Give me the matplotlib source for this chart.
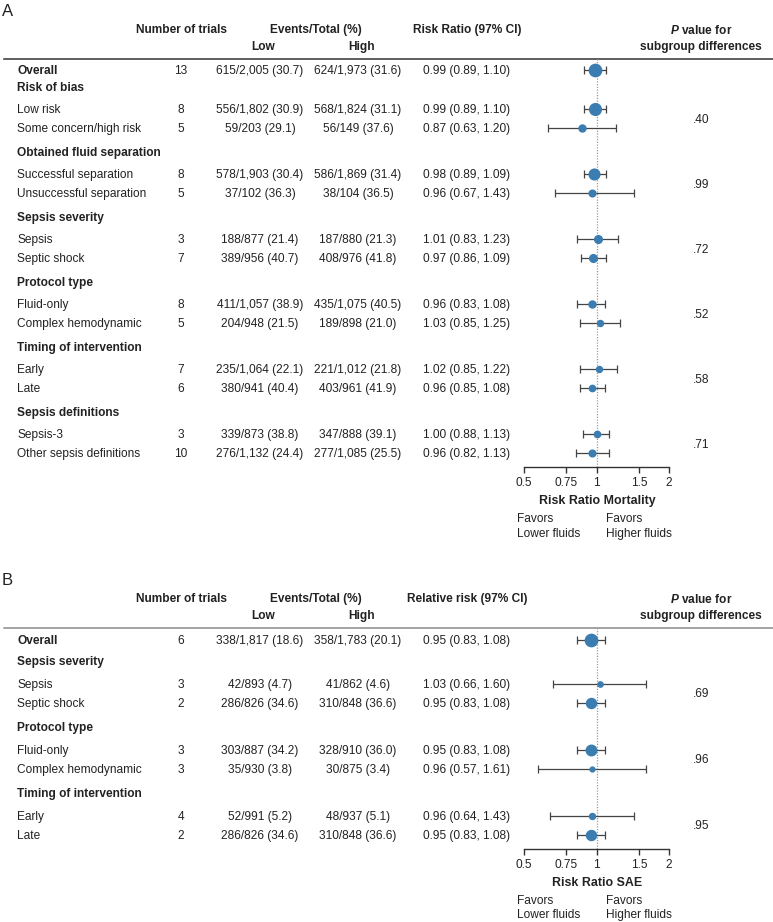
import numpy as np
import matplotlib
matplotlib.use("Agg")
import matplotlib.pyplot as plt

plt.rcParams["font.family"] = ["Liberation Sans", "DejaVu Sans"]
plt.rcParams["mathtext.fontset"] = "custom"
plt.rcParams["mathtext.it"] = "Liberation Sans:italic:bold"
plt.rcParams["mathtext.rm"] = "Liberation Sans:bold"

W, H = 773, 922
FS = 8.6
TXT = "#222222"
DOT = "#3b7db0"
BAR = "#444444"
DY = 1.2  # text sits a bit low against the row centre in the original

# ---- Panel A: mortality ----
A_LABELS = ["Overall", "Risk of bias", "Low risk", "Some concern/high risk",
            "Obtained fluid separation", "Successful separation", "Unsuccessful separation",
            "Sepsis severity", "Sepsis", "Septic shock",
            "Protocol type", "Fluid-only", "Complex hemodynamic",
            "Timing of intervention", "Early", "Late",
            "Sepsis definitions", "Sepsis-3", "Other sepsis definitions"]
A_TRIALS = [13, None, 8, 5, None, 8, 5, None, 3, 7, None, 8, 5, None, 7, 6, None, 3, 10]
A_LOW = ["615/2,005 (30.7)", None, "556/1,802 (30.9)", "59/203 (29.1)",
         None, "578/1,903 (30.4)", "37/102 (36.3)",
         None, "188/877 (21.4)", "389/956 (40.7)",
         None, "411/1,057 (38.9)", "204/948 (21.5)",
         None, "235/1,064 (22.1)", "380/941 (40.4)",
         None, "339/873 (38.8)", "276/1,132 (24.4)"]
A_HIGH = ["624/1,973 (31.6)", None, "568/1,824 (31.1)", "56/149 (37.6)",
          None, "586/1,869 (31.4)", "38/104 (36.5)",
          None, "187/880 (21.3)", "408/976 (41.8)",
          None, "435/1,075 (40.5)", "189/898 (21.0)",
          None, "221/1,012 (21.8)", "403/961 (41.9)",
          None, "347/888 (39.1)", "277/1,085 (25.5)"]
A_RR = [0.99, None, 0.99, 0.87, None, 0.98, 0.96, None, 1.01, 0.97, None, 0.96, 1.03, None, 1.02, 0.96, None, 1.00, 0.96]
A_LO = [0.89, None, 0.89, 0.63, None, 0.89, 0.67, None, 0.83, 0.86, None, 0.83, 0.85, None, 0.85, 0.85, None, 0.88, 0.82]
A_HI = [1.10, None, 1.10, 1.20, None, 1.09, 1.43, None, 1.23, 1.09, None, 1.08, 1.25, None, 1.22, 1.08, None, 1.13, 1.13]
# relative study weight (marker diameter, px)
A_WEIGHT = [12.3, None, 11.7, 7, None, 10.7, 6.7, None, 7.7, 7.7, None, 7, 6, None, 6, 6.3, None, 6.3, 6.7]
A_PVAL = [".40", ".99", ".72", ".52", ".58", ".71"]

# ---- Panel B: serious adverse events ----
B_LABELS = ["Overall", "Sepsis severity", "Sepsis", "Septic shock",
            "Protocol type", "Fluid-only", "Complex hemodynamic",
            "Timing of intervention", "Early", "Late"]
B_TRIALS = [6, None, 3, 2, None, 3, 3, None, 4, 2]
B_LOW = ["338/1,817 (18.6)", None, "42/893 (4.7)", "286/826 (34.6)",
         None, "303/887 (34.2)", "35/930 (3.8)",
         None, "52/991 (5.2)", "286/826 (34.6)"]
B_HIGH = ["358/1,783 (20.1)", None, "41/862 (4.6)", "310/848 (36.6)",
          None, "328/910 (36.0)", "30/875 (3.4)",
          None, "48/937 (5.1)", "310/848 (36.6)"]
B_RR = [0.95, None, 1.03, 0.95, None, 0.95, 0.96, None, 0.96, 0.95]
B_LO = [0.83, None, 0.66, 0.83, None, 0.83, 0.57, None, 0.64, 0.83]
B_HI = [1.08, None, 1.60, 1.08, None, 1.08, 1.61, None, 1.43, 1.08]
B_WEIGHT = [12.3, None, 5.3, 10, None, 10.5, 4.8, None, 6, 10]
B_PVAL = [".69", ".96", ".95"]

TICKS = [0.5, 0.75, 1, 1.5, 2]
TICK_LABELS = ["0.5", "0.75", "1", "1.5", "2"]


def row_positions(trials, labels, y0, after_overall, after_group, within, to_group):
    kinds = []
    for lab, n in zip(labels, trials):
        if n is None:
            kinds.append("group")
        elif lab == "Overall":
            kinds.append("overall")
        else:
            kinds.append("item")
    ys = [y0]
    for prev, cur in zip(kinds, kinds[1:]):
        if cur == "group":
            step = after_overall if prev == "overall" else to_group
        elif prev == "group":
            step = after_group
        else:
            step = within
        ys.append(ys[-1] + step)
    return kinds, ys


def draw_panel(fig, ax, letter, y_top, rr_title, xlabel, labels, trials, low, high,
               rr, lo, hi, weight, pvals, ys, kinds, line_color):
    # header
    ax.text(2, y_top + 1, letter, fontsize=12, color=TXT, ha="left", va="center")
    yh1, yh2, yline = y_top + 19, y_top + 36, y_top + 49
    kw = dict(fontsize=FS, weight="bold", color=TXT, ha="center", va="center")
    ax.text(181, yh1 + DY, "Number of trials", **kw)
    ax.text(316, yh1 + DY, "Events/Total (%)", **kw)
    ax.text(263, yh2 + DY, "Low", **kw)
    ax.text(362, yh2 + DY, "High", **kw)
    ax.text(467, yh1 + DY, rr_title, **kw)
    ax.text(701, yh1 + DY, r"$\mathit{P}$ value for", **kw)
    ax.text(701, yh2 + DY, "subgroup differences", **kw)
    ax.plot([4, W], [yline, yline], color=line_color, lw=1.1)

    # table
    for i, lab in enumerate(labels):
        y = ys[i] + DY
        bold = kinds[i] != "item"
        ax.text(17, y, lab, fontsize=FS, weight="bold" if bold else "normal",
                color=TXT, ha="left", va="center")
        if trials[i] is None:
            continue
        ax.text(181, y, str(trials[i]), fontsize=FS, color=TXT, ha="center", va="center")
        ax.text(260, y, low[i], fontsize=FS, color=TXT, ha="center", va="center")
        ax.text(358, y, high[i], fontsize=FS, color=TXT, ha="center", va="center")
        ax.text(467, y, f"{rr[i]:.2f} ({lo[i]:.2f}, {hi[i]:.2f})", fontsize=FS,
                color=TXT, ha="center", va="center")

    # p values, centred on each subgroup
    groups = []
    cur = None
    for k, y in zip(kinds, ys):
        if k == "group":
            cur = []
            groups.append(cur)
        elif k == "item" and cur is not None:
            cur.append(y)
    for g, p in zip(groups, pvals):
        ax.text(701, np.mean(g) + DY, p, fontsize=FS, color=TXT, ha="center", va="center")

    # forest plot
    yaxis = ys[-1] + 14
    fax = fig.add_axes([524 / W, 1 - yaxis / H, 145 / W, (yaxis - yline) / H])
    fax.patch.set_alpha(0)
    fax.set_xscale("log")
    fax.set_xlim(0.5, 2)
    fax.set_ylim(yaxis, yline)
    for s in ["top", "left", "right"]:
        fax.spines[s].set_visible(False)
    fax.spines["bottom"].set_linewidth(1.0)
    fax.spines["bottom"].set_color("#333333")
    fax.set_yticks([])
    fax.xaxis.set_minor_locator(matplotlib.ticker.NullLocator())
    fax.set_xticks(TICKS)
    fax.set_xticklabels(TICK_LABELS)
    fax.tick_params(axis="x", direction="out", length=4, width=1.0, color="#333333",
                    labelsize=FS, labelcolor=TXT, pad=3.2)
    fax.axvline(1, color="#9a9a9a", ls=(0, (1, 1.2)), lw=0.9, zorder=0)
    for i in range(len(labels)):
        if rr[i] is None:
            continue
        fax.errorbar(rr[i], ys[i], xerr=[[rr[i] - lo[i]], [hi[i] - rr[i]]], fmt="o",
                     ms=weight[i] * 0.72, mfc=DOT, mec=DOT, ecolor=BAR, elinewidth=0.9,
                     capsize=2.8, capthick=0.9, clip_on=False, zorder=3)

    ax.text(597, yaxis + 34, xlabel, fontsize=FS + 0.3, weight="bold", color=TXT, ha="center", va="center")
    ax.text(517, yaxis + 52, "Favors", fontsize=FS, color=TXT, ha="left", va="center")
    ax.text(517, yaxis + 66.5, "Lower fluids", fontsize=FS, color=TXT, ha="left", va="center")
    ax.text(606, yaxis + 52, "Favors", fontsize=FS, color=TXT, ha="left", va="center")
    ax.text(606, yaxis + 66.5, "Higher fluids", fontsize=FS, color=TXT, ha="left", va="center")


fig = plt.figure(figsize=(W / 100, H / 100), dpi=100)
ax = fig.add_axes([0, 0, 1, 1])
ax.set_xlim(0, W)
ax.set_ylim(H, 0)
ax.axis("off")

a_kinds, a_ys = row_positions(A_TRIALS, A_LABELS, 70, 17, 22, 19, 24)
draw_panel(fig, ax, "A", 10, "Risk Ratio (97% CI)", "Risk Ratio Mortality",
           A_LABELS, A_TRIALS, A_LOW, A_HIGH, A_RR, A_LO, A_HI, A_WEIGHT, A_PVAL,
           a_ys, a_kinds, "#333333")

b_kinds, b_ys = row_positions(B_TRIALS, B_LABELS, 640, 21, 22.5, 19, 24.5)
draw_panel(fig, ax, "B", 579, "Relative risk (97% CI)", "Risk Ratio SAE",
           B_LABELS, B_TRIALS, B_LOW, B_HIGH, B_RR, B_LO, B_HI, B_WEIGHT, B_PVAL,
           b_ys, b_kinds, "#8a8a8a")

fig.savefig("out.png", dpi=100)
